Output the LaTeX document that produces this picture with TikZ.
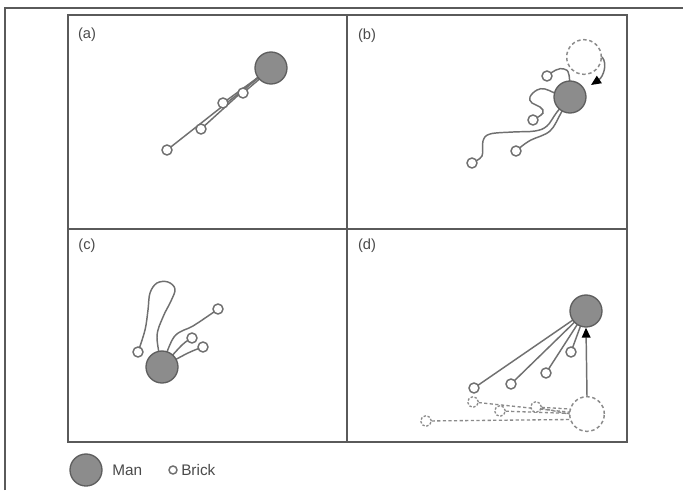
\documentclass[tikz,border=0pt]{standalone}
\usepackage{fontspec}
\setmainfont{Liberation Sans}
\usetikzlibrary{arrows.meta}
\definecolor{framegray}{HTML}{5A5A5A}
\definecolor{manfill}{HTML}{8C8C8C}
\definecolor{mandraw}{HTML}{5E5E5E}
\definecolor{ropegray}{HTML}{707070}
\definecolor{ghostgray}{HTML}{8A8A8A}
\definecolor{textgray}{HTML}{4A4A4A}
\pgfdeclarelayer{background}
\pgfsetlayers{background,main}
\begin{document}
\begin{tikzpicture}[x=0.75pt,y=-0.75pt,
  frame/.style={draw=framegray,line width=1.5pt},
  man/.style={circle,draw=mandraw,fill=manfill,line width=1pt,minimum size=24pt,inner sep=0pt},
  brick/.style={circle,draw=ropegray,fill=white,line width=1.1pt,minimum size=7.5pt,inner sep=0pt},
  ghostman/.style={circle,draw=ghostgray,fill=white,line width=1.1pt,dash pattern=on 2.6pt off 2pt,minimum size=26pt,inner sep=0pt},
  ghostbrick/.style={circle,draw=ghostgray,fill=white,line width=1pt,dash pattern=on 1.8pt off 1.3pt,minimum size=8pt,inner sep=0pt},
  rope/.style={draw=ropegray,line width=1.1pt},
  ghostrope/.style={draw=ghostgray,line width=1pt,dash pattern=on 2.4pt off 1.8pt},
  move/.style={draw=ropegray,line width=1.1pt,-{Triangle[length=7.5pt,width=6.5pt,black]}},
  panellabel/.style={font=\fontsize{11}{13}\selectfont,text=textgray,inner sep=0pt},
  legendtext/.style={font=\fontsize{11.5}{13}\selectfont,text=textgray,inner sep=0pt,anchor=west}
]
\useasboundingbox (0,0) rectangle (683,490);
\begin{pgfonlayer}{background}
  \fill[white] (0,0) rectangle (683,490);
\end{pgfonlayer}

% page edge
\draw[frame] (4.5,490) -- (4.5,8) -- (683,8);

% panel grid
\draw[frame] (68,15) rectangle (627,442);
\draw[frame] (347,15) -- (347,442);
\draw[frame] (68,229) -- (627,229);

% panel labels
\node[panellabel] (la) at (87,35) {(a)};
\node[panellabel] (lb) at (367,36) {(b)};
\node[panellabel] (lc) at (87,246) {(c)};
\node[panellabel] (ld) at (367,246) {(d)};

% ---------- (a) ----------
\node[man] (am) at (271,68) {};
\node[brick] (a1) at (243,93) {};
\node[brick] (a2) at (223,103) {};
\node[brick] (a3) at (201,129) {};
\node[brick] (a4) at (167,150) {};
\begin{pgfonlayer}{background}
  \draw[rope] (a4.center) -- (am.center);
  \draw[rope] (a3.center) -- ([yshift=2pt]am.center);
  \draw[rope] (a2.center) -- (am.center);
  \draw[rope] (a1.center) -- ([yshift=-1pt]am.center);
\end{pgfonlayer}

% ---------- (b) ----------
\node[ghostman] (bg) at (584,57) {};
\node[man] (bm) at (570,97) {};
\node[brick] (b1) at (547,76) {};
\node[brick] (b2) at (533,120) {};
\node[brick] (b3) at (516,151) {};
\node[brick] (b4) at (472,163) {};
\coordinate (btip) at (591,85);
\begin{pgfonlayer}{background}
  \draw[rope] plot[smooth,tension=0.7] coordinates
    {(b1.center) (556,70) (564,69) (569,75) (bm.center)};
  \draw[rope] plot[smooth,tension=0.7] coordinates
    {(bm.center) (555,93) (545,89) (537,90) (530,97) (532,103) (540,107) (543,113) (b2.center)};
  \draw[rope] plot[smooth,tension=0.6] coordinates
    {(bm.center) (557,112) (547,126) (535,131) (513,132) (490,134) (483,141) (482,156) (b4.center)};
  \draw[rope] plot[smooth,tension=0.6] coordinates
    {(bm.center) (561,113) (550,131) (531,140) (522,146) (b3.center)};
\end{pgfonlayer}
\draw[move] (bg.east) .. controls (608,64) and (603,77) .. (btip);

% ---------- (c) ----------
\node[man] (cm) at (162,367) {};
\node[brick] (c1) at (138,352) {};
\node[brick] (c2) at (218,309) {};
\node[brick] (c3) at (192,338) {};
\node[brick] (c4) at (203,347) {};
\begin{pgfonlayer}{background}
  \draw[rope] plot[smooth,tension=0.6] coordinates
    {(cm.center) (157,337) (163,317) (171,301) (175,289) (168,282) (157,283) (150,293) (148,310) (145,330) (c1.center)};
  \draw[rope] plot[smooth,tension=0.6] coordinates
    {(cm.center) (174,337) (193,326) (211,314) (c2.center)};
  \draw[rope] plot[smooth,tension=0.6] coordinates
    {(cm.center) (182,345) (c3.center)};
  \draw[rope] plot[smooth,tension=0.6] coordinates
    {(cm.center) (188,353) (c4.center)};
\end{pgfonlayer}

% ---------- (d) ----------
\node[ghostman] (dg) at (587,414) {};
\node[man] (dm) at (586,311) {};
\node[brick] (d1) at (474,388) {};
\node[brick] (d2) at (511,384) {};
\node[brick] (d3) at (546,373) {};
\node[brick] (d4) at (571,352) {};
\node[ghostbrick] (g1) at (473,402) {};
\node[ghostbrick] (g2) at (500,411) {};
\node[ghostbrick] (g3) at (536,407) {};
\node[ghostbrick] (g4) at (426,421) {};
\begin{pgfonlayer}{background}
  \draw[rope] (d1.center) -- (dm.center);
  \draw[rope] (d2.center) -- (dm.center);
  \draw[rope] (d3.center) -- (dm.center);
  \draw[rope] (d4.center) -- (dm.center);
  \draw[ghostrope] (g1.center) -- (dg.center);
  \draw[ghostrope] (g2.center) -- (dg.center);
  \draw[ghostrope] (g3.center) -- ([yshift=-3pt]dg.center);
  \draw[ghostrope] (g3.center) -- ([yshift=3pt]dg.center);
  \draw[ghostrope] (g4.center) -- ([yshift=-4pt]dg.center);
\end{pgfonlayer}
\draw[move] (dg.north) -- (dm.south);

% ---------- legend ----------
\node[man] (lm) at (86,470) {};
\node[legendtext] (lmt) at (112,470) {Man};
\node[brick,minimum size=6pt] (lb1) at (173,470) {};
\node[legendtext] (lbt) at (181,470) {Brick};
\end{tikzpicture}
\end{document}
